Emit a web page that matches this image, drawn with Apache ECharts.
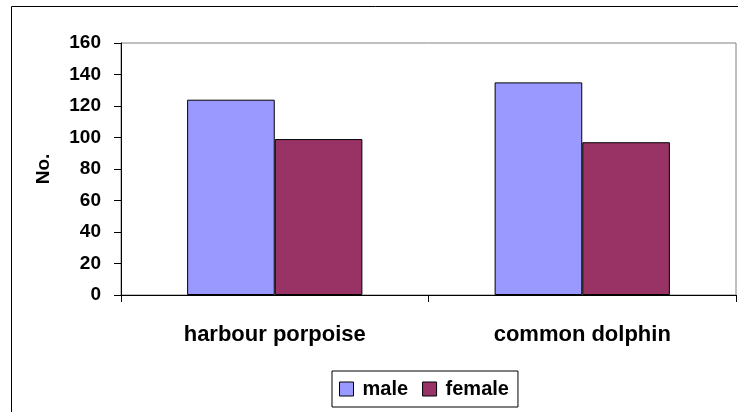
<!DOCTYPE html>
<html>
<head>
<meta charset="utf-8">
<script src="https://cdn.jsdelivr.net/npm/echarts@6/dist/echarts.min.js"></script>
<style>
  html, body { margin: 0; padding: 0; background: #fff; }
  #chart { width: 738px; height: 412px; }
</style>
</head>
<body>
<div id="chart"></div>
<script>
// data
const categories = ["harbour porpoise", "common dolphin"];
const maleValues = [124, 135];
const femaleValues = [99, 97];
const yTicks = [0, 160, 20]; // min, max, step

const font = "'Liberation Sans', Arial, sans-serif";

let chart = echarts.init(document.getElementById("chart"), null, { renderer: "canvas" });
chart.setOption({
  animation: false,
  backgroundColor: "#fff",
  textStyle: { fontFamily: font },
  // outer chart border (only top/left visible in the picture)
  graphic: [
    {
      type: "rect",
      shape: { x: 11.5, y: 6.5, width: 800, height: 500 },
      style: { fill: "none", stroke: "#000", lineWidth: 1 },
      silent: true,
      z: 0
    }
  ],
  grid: {
    left: 121,
    top: 43,
    right: 2,
    bottom: 117,
    show: true,
    borderColor: "#808080",
    borderWidth: 1,
    backgroundColor: "#fff"
  },
  legend: {
    data: ["male", "female"],
    left: 332,
    top: 371,
    orient: "horizontal",
    icon: "rect",
    itemWidth: 14,
    itemHeight: 14,
    itemGap: 14,
    padding: [8, 9, 8, 7],
    borderColor: "#000",
    borderWidth: 1,
    backgroundColor: "#fff",
    textStyle: {
      fontFamily: font,
      fontWeight: "bold",
      fontSize: 20,
      color: "#000",
      padding: [0, 0, 0, 4]
    },
    itemStyle: { borderColor: "#000", borderWidth: 1 }
  },
  xAxis: {
    type: "category",
    data: categories,
    axisLine: { lineStyle: { color: "#000", width: 1 } },
    axisTick: { show: true, length: 7, lineStyle: { color: "#000" } },
    axisLabel: {
      margin: 29,
      fontFamily: font,
      fontWeight: "bold",
      fontSize: 22,
      color: "#000"
    },
    splitLine: { show: false }
  },
  yAxis: {
    type: "value",
    min: yTicks[0],
    max: yTicks[1],
    interval: yTicks[2],
    name: "No.",
    nameLocation: "middle",
    nameRotate: 90,
    nameGap: 68,
    nameTextStyle: {
      fontFamily: font,
      fontWeight: "bold",
      fontSize: 19,
      color: "#000"
    },
    axisLine: { show: true, lineStyle: { color: "#000", width: 1 } },
    axisTick: { show: true, length: 7, lineStyle: { color: "#000" } },
    axisLabel: {
      margin: 20,
      fontFamily: font,
      fontWeight: "bold",
      fontSize: 19,
      color: "#000"
    },
    splitLine: { show: false }
  },
  series: [
    {
      name: "male",
      type: "bar",
      data: maleValues,
      barGap: "0%",
      barCategoryGap: "43%",
      itemStyle: { color: "#9999FF", borderColor: "#000", borderWidth: 1 }
    },
    {
      name: "female",
      type: "bar",
      data: femaleValues,
      itemStyle: { color: "#993366", borderColor: "#000", borderWidth: 1 }
    }
  ]
});
</script>
</body>
</html>
